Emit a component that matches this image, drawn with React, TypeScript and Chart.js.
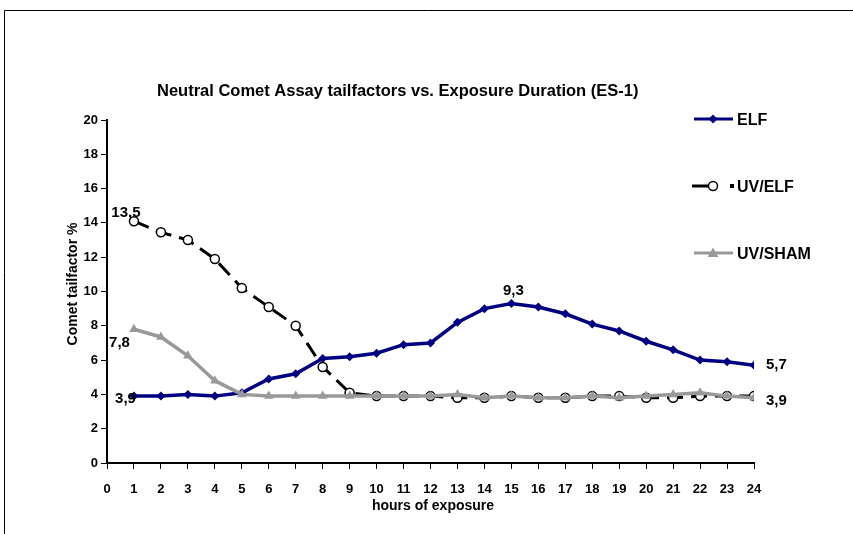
import { useEffect, useRef } from "react";
import { Chart, registerables } from "chart.js";

Chart.register(...registerables);

const hours = [1, 2, 3, 4, 5, 6, 7, 8, 9, 10, 11, 12, 13, 14, 15, 16, 17, 18, 19, 20, 21, 22, 23, 24];
const elf = [3.9, 3.9, 4.0, 3.9, 4.1, 4.9, 5.2, 6.1, 6.2, 6.4, 6.9, 7.0, 8.2, 9.0, 9.3, 9.1, 8.7, 8.1, 7.7, 7.1, 6.6, 6.0, 5.9, 5.7];
const uvElf = [14.1, 13.45, 13.0, 11.9, 10.2, 9.1, 8.0, 5.6, 4.1, 3.9, 3.9, 3.9, 3.8, 3.8, 3.9, 3.8, 3.8, 3.9, 3.9, 3.8, 3.8, 3.9, 3.9, 3.9];
const uvSham = [7.8, 7.35, 6.25, 4.8, 4.0, 3.9, 3.9, 3.9, 3.9, 3.9, 3.9, 3.9, 4.0, 3.8, 3.9, 3.8, 3.8, 3.9, 3.8, 3.9, 4.0, 4.1, 3.9, 3.8];
const seriesNames = ["ELF", "UV/ELF", "UV/SHAM"];
const xMin = 0;
const xMax = 24;
const yMin = 0;
const yMax = 20;
const yStep = 2;
const chartTitle = "Neutral Comet Assay tailfactors vs. Exposure Duration (ES-1)";
const xTitle = "hours of exposure";
const yTitle = "Comet tailfactor %";
// data labels: series index, point index, text
const labelSeries = [1, 2, 0, 0, 0, 1];
const labelPoints = [0, 0, 0, 14, 23, 23];
const labelTexts = ["13,5", "7,8", "3,9", "9,3", "5,7", "3,9"];

const FONT = "'Liberation Sans', Arial, sans-serif";
const NAVY = "#000080";
const GRAY = "#999999";

function drawMarker(ctx: CanvasRenderingContext2D, kind: string, x: number, y: number) {
  ctx.save();
  if (kind === "diamond") {
    ctx.fillStyle = NAVY;
    ctx.beginPath();
    ctx.moveTo(x, y - 4.5);
    ctx.lineTo(x + 4.5, y);
    ctx.lineTo(x, y + 4.5);
    ctx.lineTo(x - 4.5, y);
    ctx.closePath();
    ctx.fill();
  } else if (kind === "circle") {
    ctx.fillStyle = "#ffffff";
    ctx.strokeStyle = "#000000";
    ctx.lineWidth = 1.5;
    ctx.beginPath();
    ctx.arc(x, y, 4.5, 0, Math.PI * 2);
    ctx.fill();
    ctx.stroke();
  } else {
    ctx.fillStyle = GRAY;
    ctx.beginPath();
    ctx.moveTo(x, y - 5.5);
    ctx.lineTo(x + 5.5, y + 4);
    ctx.lineTo(x - 5.5, y + 4);
    ctx.closePath();
    ctx.fill();
  }
  ctx.restore();
}

const decor = {
  id: "decor",
  beforeDraw(chart: any) {
    const ctx = chart.ctx as CanvasRenderingContext2D;
    ctx.save();
    ctx.fillStyle = "#ffffff";
    ctx.fillRect(0, 0, chart.width, chart.height);
    ctx.strokeStyle = "#000000";
    ctx.lineWidth = 1;
    ctx.beginPath();
    ctx.moveTo(4.5, chart.height);
    ctx.lineTo(4.5, 10.5);
    ctx.lineTo(chart.width, 10.5);
    ctx.stroke();
    ctx.restore();
  },
  afterDatasetsDraw(chart: any) {
    const ctx = chart.ctx as CanvasRenderingContext2D;
    const xs = chart.scales.x;
    const ys = chart.scales.y;
    const all = [elf, uvElf, uvSham];
    ctx.save();
    ctx.fillStyle = "#000000";
    ctx.font = `bold 15px ${FONT}`;
    ctx.textBaseline = "alphabetic";
    for (let i = 0; i < labelTexts.length; i++) {
      const s = labelSeries[i];
      const p = labelPoints[i];
      const px = xs.getPixelForValue(hours[p]);
      const py = ys.getPixelForValue(all[s][p]);
      const t = labelTexts[i];
      if (p === 0 && s === 1) {
        ctx.textAlign = "center";
        ctx.fillText(t, px - 8, py - 4);
      } else if (p === 0 && s === 2) {
        ctx.textAlign = "right";
        ctx.fillText(t, px - 4, py + 18);
      } else if (p === 0) {
        ctx.textAlign = "right";
        ctx.fillText(t, px + 2, py + 7);
      } else if (p === hours.length - 1) {
        ctx.textAlign = "left";
        ctx.fillText(t, px + 12, py + (s === 0 ? 4 : 9));
      } else {
        ctx.textAlign = "center";
        ctx.fillText(t, px + 2, py - 9);
      }
    }
    ctx.restore();
  },
  afterDraw(chart: any) {
    const ctx = chart.ctx as CanvasRenderingContext2D;
    ctx.save();
    ctx.fillStyle = "#000000";
    ctx.textBaseline = "alphabetic";
    ctx.font = `bold 16.5px ${FONT}`;
    ctx.textAlign = "left";
    ctx.fillText(chartTitle, 157, 96);

    ctx.font = `bold 14px ${FONT}`;
    ctx.textAlign = "center";
    ctx.fillText(xTitle, 433, 510);

    ctx.save();
    ctx.translate(77, 284);
    ctx.rotate(-Math.PI / 2);
    ctx.fillText(yTitle, 0, 0);
    ctx.restore();

    // legend
    const ly = [119, 186, 253];
    const kinds = ["diamond", "circle", "triangle"];
    const colors = [NAVY, "#000000", GRAY];
    ctx.font = `bold 16px ${FONT}`;
    ctx.textAlign = "left";
    for (let i = 0; i < seriesNames.length; i++) {
      const y = ly[i];
      ctx.strokeStyle = colors[i];
      ctx.lineWidth = 3;
      ctx.beginPath();
      if (i === 1) {
        ctx.moveTo(692, y);
        ctx.lineTo(708, y);
        ctx.stroke();
        ctx.fillStyle = "#000000";
        ctx.fillRect(730, y - 2, 4, 4);
      } else {
        ctx.moveTo(694, y);
        ctx.lineTo(733, y);
        ctx.stroke();
      }
      drawMarker(ctx, kinds[i], 713, y);
      ctx.fillStyle = "#000000";
      ctx.fillText(seriesNames[i], 737, y + 6);
    }
    ctx.restore();
  },
};

export default function App() {
  const ref = useRef<HTMLCanvasElement | null>(null);
  useEffect(() => {
    if (!ref.current) return;
    const tickFont = { family: FONT, size: 13, weight: "bold" as const };
    const chart = new Chart(ref.current, {
      type: "line",
      data: {
        datasets: [
          {
            label: seriesNames[0],
            data: hours.map((h, i) => ({ x: h, y: elf[i] })),
            borderColor: NAVY,
            backgroundColor: NAVY,
            borderWidth: 3.5,
            pointStyle: "rectRot",
            pointRadius: 4.5,
            pointBorderWidth: 0,
            order: 3,
          },
          {
            label: seriesNames[1],
            data: hours.map((h, i) => ({ x: h, y: uvElf[i] })),
            borderColor: "#000000",
            backgroundColor: "#ffffff",
            borderWidth: 3,
            borderDash: [16, 8],
            pointStyle: "circle",
            pointRadius: 4.5,
            pointBorderWidth: 1.5,
            pointBorderColor: "#000000",
            pointBackgroundColor: "#ffffff",
            order: 2,
          },
          {
            label: seriesNames[2],
            data: hours.map((h, i) => ({ x: h, y: uvSham[i] })),
            borderColor: GRAY,
            backgroundColor: GRAY,
            borderWidth: 3.5,
            pointStyle: "triangle",
            pointRadius: 5.5,
            pointBorderWidth: 0,
            order: 1,
          },
        ],
      },
      options: {
        responsive: false,
        animation: false,
        layout: { padding: { left: 10, right: 99, top: 120, bottom: 11 } },
        plugins: {
          legend: { display: false },
          title: { display: false },
          tooltip: { enabled: false },
        },
        scales: {
          x: {
            type: "linear",
            min: xMin,
            max: xMax,
            afterFit: (s: any) => {
              s.height = 60;
            },
            ticks: { stepSize: 1, color: "#000", font: tickFont, padding: 13, maxRotation: 0, autoSkip: false },
            grid: { display: true, drawOnChartArea: false, drawTicks: true, tickLength: 6, color: "#000", lineWidth: 1 },
            border: { display: true, color: "#000", width: 2 },
            title: { display: false },
          },
          y: {
            min: yMin,
            max: yMax,
            afterFit: (s: any) => {
              s.width = 97;
            },
            ticks: { stepSize: yStep, color: "#000", font: tickFont, padding: 3 },
            grid: { display: true, drawOnChartArea: false, drawTicks: true, tickLength: 6, color: "#000", lineWidth: 1 },
            border: { display: true, color: "#000", width: 2 },
            title: { display: false },
          },
        },
      },
      plugins: [decor],
    });
    return () => chart.destroy();
  }, []);
  return (
    <div style={{ position: "absolute", left: 0, top: 0, width: 853, height: 534 }}>
      <canvas ref={ref} width={853} height={534} style={{ display: "block" }} />
    </div>
  );
}
